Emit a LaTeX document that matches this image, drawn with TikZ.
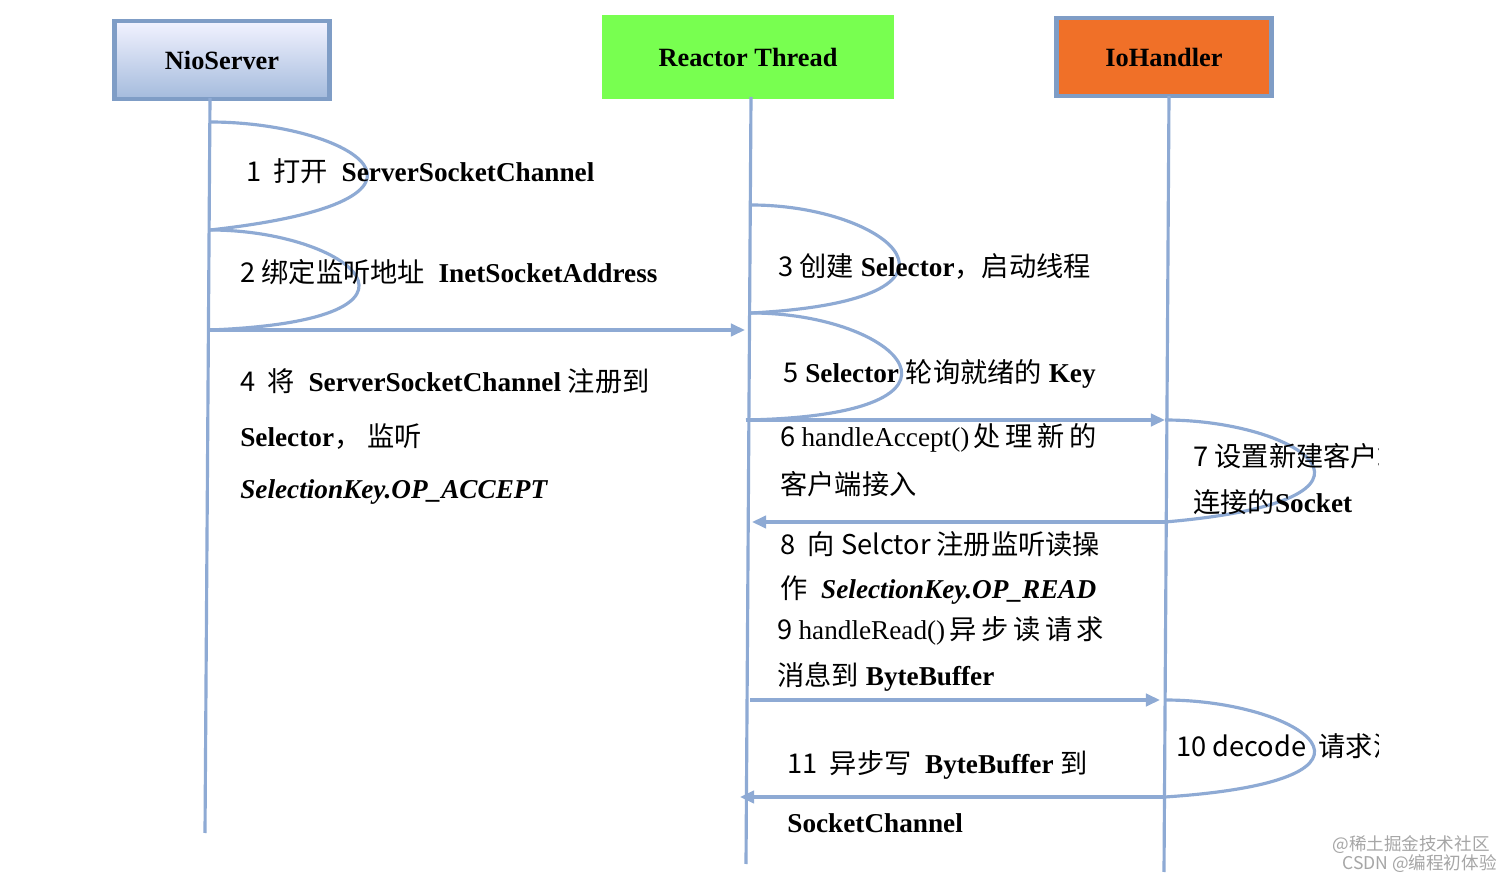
\documentclass[tikz,border=0pt]{standalone}
\usepackage{fontspec}
\setmainfont{Liberation Serif}
\newfontfamily\cjk{Noto Sans CJK SC}
\usetikzlibrary{arrows.meta}
\newcommand{\zh}[1]{{\cjk\mdseries #1}}
\definecolor{lifeblue}{HTML}{8EAAD4}
\definecolor{boxedge}{HTML}{7F9DC6}
\tikzset{
  head/.style={draw=boxedge,line width=2.5pt,minimum width=4.3cm,minimum height=1.55cm,font=\fontsize{15}{18}\selectfont\bfseries},
  life/.style={lifeblue,line width=1.8pt},
  msg/.style={lifeblue,line width=1.8pt,-{Triangle[length=8pt,width=7pt]}},
  lbl/.style={anchor=west,inner sep=0,font=\fontsize{15.5}{18}\selectfont\bfseries}
}
\begin{document}
\begin{tikzpicture}[x=0.02cm,y=-0.02cm]
  \useasboundingbox[fill=white] (0,0) rectangle (1512,881);

  % Heads
  \node[head,top color=blue!5!white,bottom color=lifeblue!80,minimum width=4.3cm] (nio) at (222,60) {NioServer};
  \node[head,fill={rgb,255:red,120;green,255;blue,80},draw={rgb,255:red,120;green,255;blue,80},minimum width=5.76cm,minimum height=1.6cm] (reactor) at (748,57) {Reactor Thread};
  \node[head,fill={rgb,255:red,240;green,112;blue,40},minimum width=4.3cm] (io) at (1164,57) {IoHandler};

  % Lifelines
  \coordinate (nioEnd) at (205,833);
  \coordinate (reEnd) at (746,864);
  \coordinate (ioEnd) at (1164,872);
  \draw[life] (210,98) -- (nioEnd);
  \draw[life] (751,97) -- (reEnd);
  \draw[life] (1169,96) -- (ioEnd);

  % Self loops
  \coordinate (n1) at (210,122); \coordinate (n2) at (210,230); \coordinate (n3) at (210,330);
  \draw[life] (n1) .. controls (350,122) and (480,200) .. (n2);
  \draw[life] (n2) .. controls (350,230) and (460,320) .. (n3);
  \coordinate (r1) at (751,205); \coordinate (r2) at (751,313); \coordinate (r3) at (746,420);
  \draw[life] (r1) .. controls (890,205) and (1000,300) .. (r2);
  \draw[life] (r2) .. controls (900,313) and (1000,415) .. (r3);
  \coordinate (i1) at (1165,420); \coordinate (i2) at (1165,522);
  \draw[life] (i1) .. controls (1300,420) and (1420,500) .. (i2);
  \coordinate (i3) at (1165,700); \coordinate (i4) at (1165,797);
  \draw[life] (i3) .. controls (1300,700) and (1420,780) .. (i4);

  % Messages
  \coordinate (r0) at (745,330); \coordinate (ia) at (1165,420);
  \coordinate (ra) at (752,522); \coordinate (rb) at (750,700);
  \coordinate (ib) at (1160,700); \coordinate (rc) at (740,797);
  \draw[msg] (n3) -- (r0);
  \draw[msg] (r3) -- (ia);
  \draw[msg] (i2) -- (ra);
  \draw[msg] (rb) -- (ib);
  \draw[msg] (i4) -- (rc);

  % Labels
  \node[lbl] (t1) at (246,171) {\zh{1\ \ 打开}\ \ ServerSocketChannel};
  \node[lbl] (t2) at (240,272) {\zh{2\ 绑定监听地址}\ \ InetSocketAddress};
  \node[lbl] (t4a) at (240,381) {\zh{4\ \ 将}\ \ ServerSocketChannel \zh{注册到}};
  \node[lbl] (t4b) at (240,437) {Selector\zh{，\ 监听}};
  \node[lbl] (t4c) at (240,492) {\itshape SelectionKey.OP\_ACCEPT};
  \node[lbl] (t3) at (778,266) {\zh{3\ 创建} Selector\zh{，启动线程}};
  \node[lbl] (t5) at (783,374) {\zh{5} Selector \zh{轮询就绪的} Key};
  \node[lbl] (t6a) at (780,438) {\mdseries\zh{6\ }handleAccept()\zh{\,处\,理\,新\,的}};
  \node[lbl] (t6b) at (780,484) {\zh{客户端接入}};
  \begin{scope}
    \clip (1170,400) rectangle (1378,830);
    \node[lbl] (t7a) at (1193,456) {\zh{7\ 设置新建客户端}};
    \node[lbl] (t7b) at (1193,502) {\zh{连接的}Socket};
    \node[lbl] (t10) at (1176,746) {\mdseries\zh{10 decode\ \ 请求消息}};
  \end{scope}
  \node[lbl] (t8a) at (780,544) {\zh{8\ \ 向 Selctor 注册监听读操}};
  \node[lbl] (t8b) at (780,590) {\zh{作}\ \ \itshape SelectionKey.OP\_READ};
  \node[lbl] (t9a) at (777,631) {\mdseries\zh{9\ }handleRead()\zh{\,异\,步\,读\,请\,求}};
  \node[lbl] (t9b) at (777,677) {\zh{消息到} ByteBuffer};
  \node[lbl] (t11a) at (787,765) {\zh{11\ \ 异步写}\ \ ByteBuffer \zh{到}};
  \node[lbl] (t11b) at (787,823) {SocketChannel};

  % Watermark
  \node[anchor=east,inner sep=0,gray!70,font=\cjk\fontsize{10}{11}\selectfont] (wm1) at (1490,845) {@稀土掘金技术社区};
  \node[anchor=east,inner sep=0,gray!70,font=\cjk\fontsize{10}{11}\selectfont] (wm2) at (1497,864) {CSDN @编程初体验};
\end{tikzpicture}
\end{document}
